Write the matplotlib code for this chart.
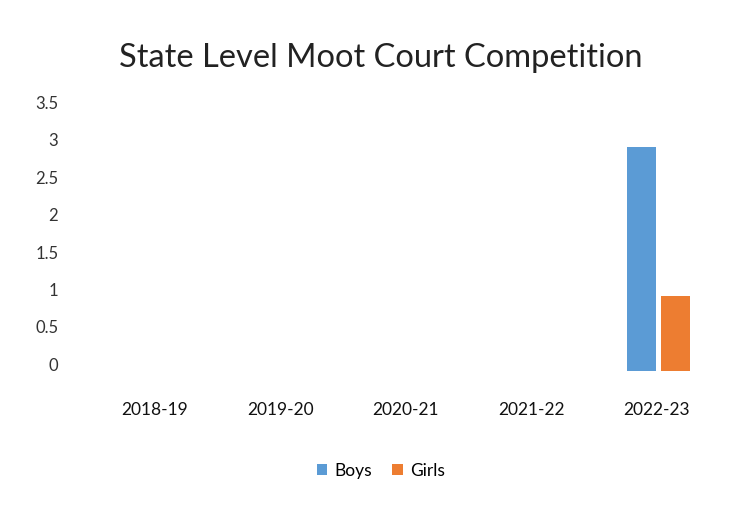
import matplotlib
matplotlib.use("Agg")
import matplotlib.pyplot as plt
import matplotlib.transforms as mtransforms
import numpy as np

categories = ["2018-19", "2019-20", "2020-21", "2021-22", "2022-23"]
boys = [0, 0, 0, 0, 3]
girls = [0, 0, 0, 0, 1]
yticks = [0, 0.5, 1, 1.5, 2, 2.5, 3, 3.5]

plt.rcParams['font.family'] = ['Lato', 'DejaVu Sans']

fig = plt.figure(figsize=(7.39, 5.12), dpi=100)
fig.patch.set_facecolor('white')
ax = fig.add_axes([0.124, 0.275, 0.85, 0.511])

x = np.arange(len(categories))
w = 0.23
ax.bar(x - 0.12, boys, width=w, color='#5b9bd5', label='Boys')
ax.bar(x + 0.15, girls, width=w, color='#ed7d31', label='Girls')

ax.set_xlim(-0.5, len(categories) - 0.5)
ax.set_ylim(0, 3.5)
ax.set_yticks(yticks)
ax.set_yticklabels([f"{t:g}" for t in yticks])
ax.set_xticks(x)
ax.set_xticklabels(categories)
ax.tick_params(axis='x', length=0, pad=22, labelsize=12.5, colors='#111111')
ax.tick_params(axis='y', length=0, pad=24, labelsize=12, colors='#333333')
offset = mtransforms.ScaledTranslation(0, 7 / 100, fig.dpi_scale_trans)
for lab in ax.get_yticklabels():
    lab.set_transform(lab.get_transform() + offset)
for s in ax.spines.values():
    s.set_visible(False)

fig.text(0.515, 0.886, "State Level Moot Court Competition", ha='center', va='center',
         fontsize=23.5, color='#222222')

handles, labels = ax.get_legend_handles_labels()
fig.legend(handles, labels, loc='center', bbox_to_anchor=(0.515, 0.08), ncol=2,
           frameon=False, fontsize=12.5, handlelength=0.6, handleheight=0.6,
           columnspacing=1.2, handletextpad=0.4)

fig.savefig("out.png", dpi=100, facecolor='white')
